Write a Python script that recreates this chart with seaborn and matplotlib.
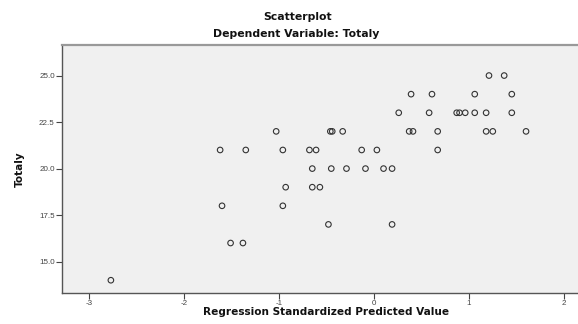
import matplotlib
matplotlib.use("Agg")
import matplotlib.pyplot as plt
import seaborn as sns
import pandas as pd

# regression standardized predicted value vs observed Totaly
pred_values = [
    -2.77,
    -1.62, -1.35, -1.60, -1.51, -1.38,
    -1.03, -0.96, -0.93, -0.96,
    -0.68, -0.61, -0.13, 0.03, 0.67,
    -0.46, -0.44, -0.33, 0.37, 0.41, 0.67, 1.18, 1.25, 1.60,
    0.26, 0.58, 0.87, 0.90, 0.96, 1.06, 1.18, 1.45,
    0.39, 0.61, 1.06, 1.45,
    1.21, 1.37,
    -0.65, -0.45, -0.29, -0.09, 0.10, 0.19,
    -0.65, -0.57,
    -0.48, 0.19,
]
totaly = [
    14,
    21, 21, 18, 16, 16,
    22, 21, 19, 18,
    21, 21, 21, 21, 21,
    22, 22, 22, 22, 22, 22, 22, 22, 22,
    23, 23, 23, 23, 23, 23, 23, 23,
    24, 24, 24, 24,
    25, 25,
    20, 20, 20, 20, 20, 20,
    19, 19,
    17, 17,
]
x_ticks = [-3, -2, -1, 0, 1, 2]
y_ticks = [15.0, 17.5, 20.0, 22.5, 25.0]

df = pd.DataFrame({"pred": pred_values, "totaly": totaly})

sns.set_style("white")
plt.rcParams['font.family'] = ['Liberation Sans', 'DejaVu Sans']

fig = plt.figure(figsize=(5.78, 3.24), dpi=100)
ax = fig.add_axes([0.108, 0.0966, 0.892, 0.765])
ax.set_facecolor("#f0f0f0")

sns.scatterplot(data=df, x="pred", y="totaly", ax=ax, marker="o", s=16,
                facecolor="none", edgecolor="#333333", linewidth=0.8)

ax.set_xlim(-3.28, 2.147)
ax.set_ylim(13.33, 26.65)
ax.set_xticks(x_ticks)
ax.set_xticklabels([str(t) for t in x_ticks])
ax.set_yticks(y_ticks)
ax.set_yticklabels([f"{t:.1f}" for t in y_ticks])
ax.tick_params(axis="both", direction="out", length=4, width=0.8,
               labelsize=5.8, colors="#444444", pad=1.5, bottom=True, left=True)

for side in ["left", "bottom"]:
    ax.spines[side].set_color("#555555")
    ax.spines[side].set_linewidth(1.0)
ax.spines["top"].set_color("#999999")
ax.spines["top"].set_linewidth(1.6)
ax.spines["right"].set_visible(False)

ax.set_xlabel("")
ax.set_ylabel("")
bold = dict(fontweight="bold", family="DejaVu Sans", color="#111111")
fig.text(0.564, 0.023, "Regression Standardized Predicted Value",
         ha="center", va="bottom", fontsize=7.6, **bold)
fig.text(0.035, 0.478, "Totaly", rotation=90, ha="center", va="center",
         fontsize=7.5, fontweight="bold", family="Liberation Sans Narrow",
         color="#111111")
fig.text(0.515, 0.948, "Scatterplot", ha="center", va="center",
         fontsize=7.8, **bold)
fig.text(0.513, 0.895, "Dependent Variable: Totaly", ha="center", va="center",
         fontsize=7.8, **bold)

fig.savefig("out.png", dpi=100)
